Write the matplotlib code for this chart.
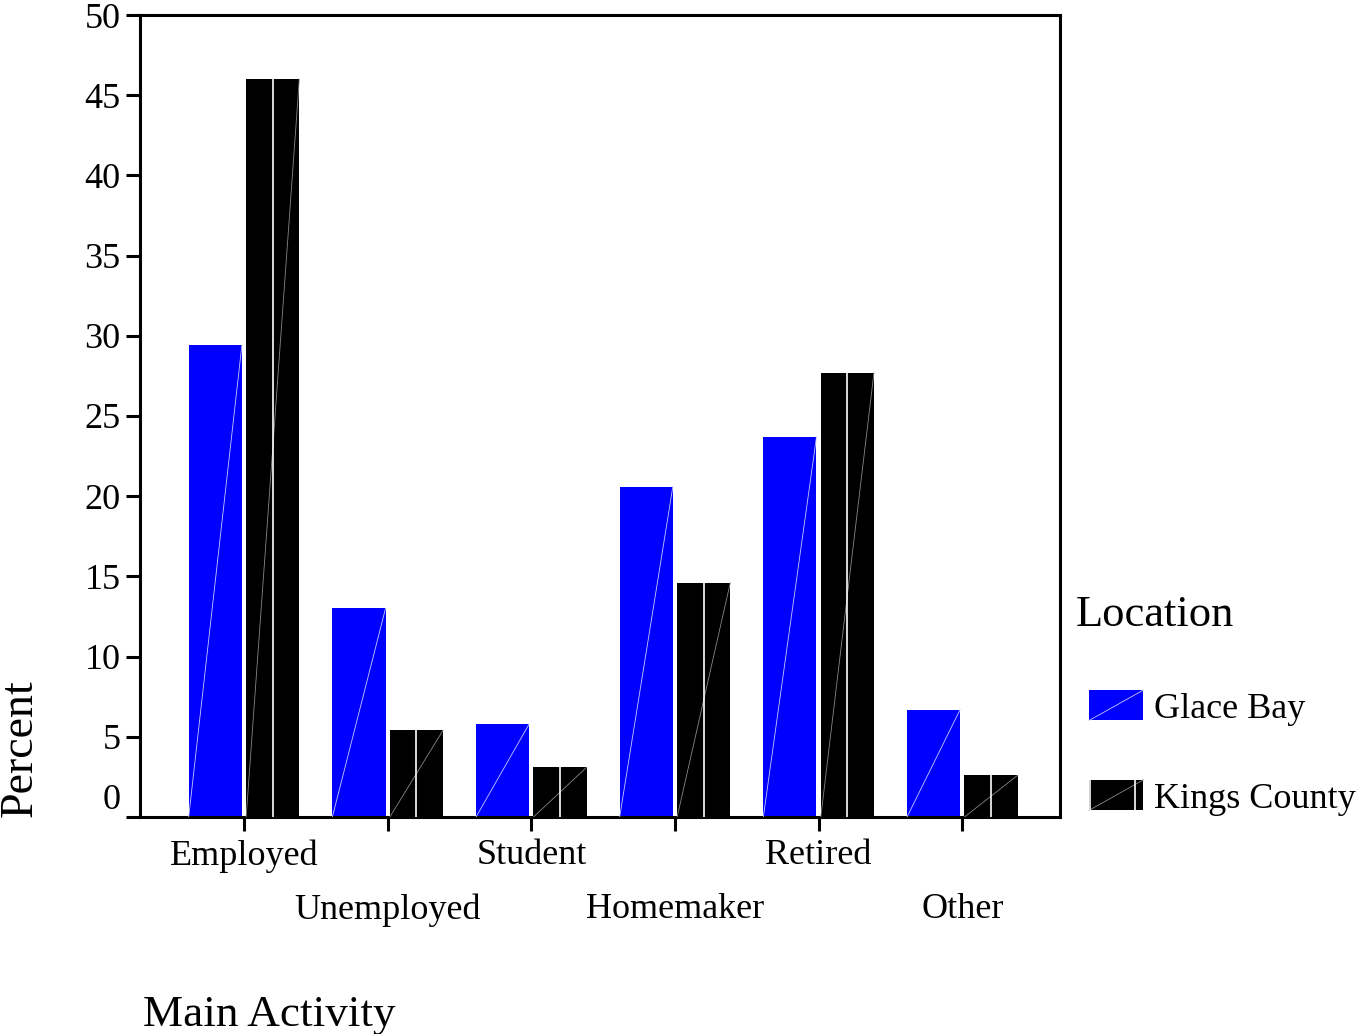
import numpy as np
import matplotlib
matplotlib.use("Agg")
import matplotlib.pyplot as plt
from matplotlib.patches import Rectangle
from matplotlib.lines import Line2D
from matplotlib.legend_handler import HandlerPatch

plt.rcParams['font.family'] = ['Liberation Serif', 'DejaVu Serif']

categories = ["Employed", "Unemployed", "Student", "Homemaker", "Retired", "Other"]
series_names = ["Glace Bay", "Kings County"]
glace_bay = [29.4, 13.0, 5.8, 20.6, 23.7, 6.7]
kings_county = [46.0, 5.4, 3.1, 14.6, 27.7, 2.6]
yticks = [0, 5, 10, 15, 20, 25, 30, 35, 40, 45, 50]

colors = ["#0000ff", "#000000"]
width = 0.37
offsets = [-0.2, 0.2]


class DiagHandler(HandlerPatch):
    # legend swatch with the thin diagonal the original renderer left behind,
    # indented a little from the legend title
    def __init__(self, split=False, indent=0.2, **kw):
        super().__init__(**kw)
        self.split = split
        self.indent = indent

    def create_artists(self, legend, orig_handle, xdescent, ydescent,
                       width, height, fontsize, trans):
        x0, y0 = -xdescent + self.indent * width, -ydescent
        w = width * (1 - self.indent)
        r = Rectangle((x0, y0), w, height, facecolor=orig_handle.get_facecolor(),
                      edgecolor='none', transform=trans)
        d = Line2D([x0, x0 + w], [y0, y0 + height], color='#c8c8ff' if not self.split else '#888888',
                   lw=0.6, transform=trans)
        arts = [r, d]
        if self.split:
            arts.append(Line2D([x0 + 0.02 * w] * 2, [y0, y0 + height], color='white', lw=1.2, transform=trans))
            arts.append(Line2D([x0 + 0.85 * w] * 2, [y0, y0 + height], color='white', lw=1.2, transform=trans))
        return arts


fig = plt.figure(figsize=(13.6, 10.34), dpi=100)
ax = fig.add_axes([140 / 1360, 1 - 817 / 1034, 920 / 1360, 802 / 1034])

x = np.arange(len(categories))
handles = []
for i, vals in enumerate([glace_bay, kings_county]):
    pos = x + offsets[i]
    bars = ax.bar(pos, vals, width=width, color=colors[i], edgecolor='none', zorder=2)
    handles.append(bars[0])
    for p, v in zip(pos, vals):
        left, right = p - width / 2, p + width / 2
        if i == 0:
            ax.plot([left, right], [0, v], color='#c8c8ff', lw=0.6, zorder=3)
        else:
            ax.plot([left, right], [0, v], color='#888888', lw=0.6, zorder=3)
            ax.plot([p, p], [0, v], color='white', lw=1.2, zorder=3)

ax.set_xlim(-0.724, 5.68)
ax.set_ylim(0, 50)
ax.set_yticks(yticks)
ax.tick_params(axis='y', labelsize=26, length=10, width=2.2, pad=4)
# the zero label sits just above the axis line in the original
ax.get_yticklabels()[0].set_verticalalignment('bottom')

ax.set_xticks(x[::2], [categories[j] for j in range(0, len(categories), 2)])
ax.set_xticks(x[1::2], [categories[j] for j in range(1, len(categories), 2)], minor=True)
ax.tick_params(axis='x', which='both', labelsize=26, length=10, width=2.2)
ax.tick_params(axis='x', which='major', pad=6)
ax.tick_params(axis='x', which='minor', pad=45)

for s in ax.spines.values():
    s.set_linewidth(2.2)

fig.text(20 / 1360, 1 - 817 / 1034, "Percent", rotation=90, ha='center', va='bottom', fontsize=33)
fig.text(143 / 1360, 1 - 1015 / 1034, "Main Activity", ha='left', va='center', fontsize=32.5)

leg = fig.legend(handles, series_names, loc='upper left',
                 bbox_to_anchor=(1043 / 1360, 1 - 562 / 1034),
                 frameon=False, fontsize=26, title="Location", title_fontsize=32,
                 alignment='left', handlelength=1.88, handleheight=0.92,
                 labelspacing=1.5, handletextpad=0.28,
                 handler_map={handles[0]: DiagHandler(), handles[1]: DiagHandler(split=True)})
leg._legend_box.sep = 40

fig.savefig("out.png", dpi=100)
